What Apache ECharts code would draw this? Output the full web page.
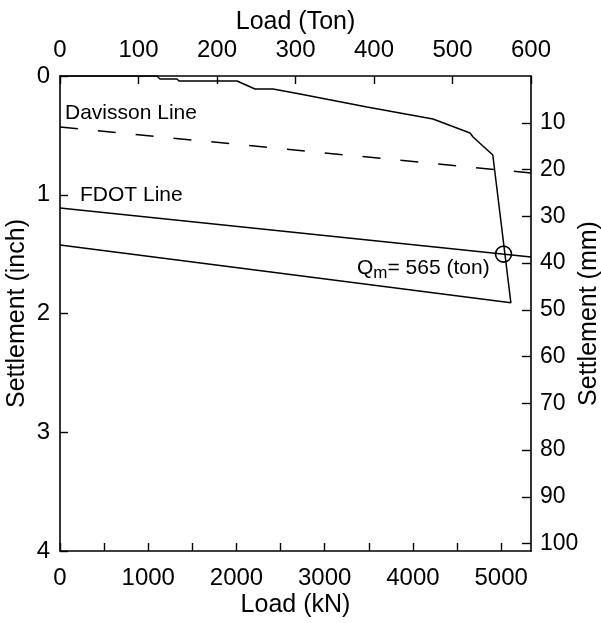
<!DOCTYPE html>
<html>
<head>
<meta charset="utf-8">
<script src="https://cdn.jsdelivr.net/npm/echarts@6/dist/echarts.min.js"></script>
<style>
  html, body { margin: 0; padding: 0; background: #fff; }
  #chart { width: 601px; height: 623px; }
</style>
</head>
<body>
<div id="chart"></div>
<script>
// Static load test: load (kN) versus pile-head settlement (inch), loading then rebound
var loadKN = [0, 1099, 1133, 1326, 1349, 2006, 2210, 2414, 2720, 3479, 4227, 4647, 4681, 4905, 5110, 0];
var settlementIn = [0, 0, 0.025, 0.025, 0.042, 0.042, 0.109, 0.109, 0.152, 0.261, 0.362, 0.48, 0.514, 0.665, 1.91, 1.423];

// Failure criterion lines (load kN, settlement inch) at both ends of the load range
var KN_PER_TON = 8.896443;
var xMaxKN = 600 * KN_PER_TON;
var davissonLoad = [0, xMaxKN];
var davissonSettle = [0.43, 0.817];
var fdotLoad = [0, xMaxKN];
var fdotSettle = [1.112, 1.524];

// Failure load from FDOT criterion
var qmTon = 565;
var qmKN = qmTon * KN_PER_TON;
var qmSettle = 1.112 + (1.524 - 1.112) * qmKN / xMaxKN;

// Axis ranges / tick steps
var loadTickKN = 500;
var loadLabelKN = 1000;
var tonTicks = 100;
var inchMax = 4;
var mmMax = inchMax * 25.4;
var mmTick = 10;

function pairs(xs, ys) {
  return xs.map(function (x, i) { return [x, ys[i]]; });
}

var FONT = 'Liberation Sans';
var TXT = '#000';
var TICK_FS = 24;
var NAME_FS = 25;
var NOTE_FS = 21;
var AX = { onZero: false, lineStyle: { color: '#000', width: 1.6 } };
var TICK = { inside: true, length: 8, lineStyle: { color: '#000', width: 1.4 } };
var nameStyle = { fontSize: NAME_FS, color: TXT, fontFamily: FONT };

var chart = echarts.init(document.getElementById('chart'), null, { renderer: 'canvas' });

chart.setOption({
  animation: false,
  backgroundColor: '#fff',
  textStyle: { fontFamily: FONT, color: TXT },
  grid: { left: 60, right: 70, top: 76, bottom: 72, containLabel: false, outerBoundsMode: 'none' },
  xAxis: [
    {
      type: 'value', position: 'bottom', min: 0, max: xMaxKN, interval: loadTickKN,
      name: 'Load (kN)', nameLocation: 'middle', nameGap: 42, nameTextStyle: nameStyle,
      nameMoveOverlap: false,
      axisLine: AX, axisTick: TICK,
      axisLabel: {
        fontSize: TICK_FS, color: TXT, fontFamily: FONT, margin: 15, showMaxLabel: false,
        formatter: function (v) { return v % loadLabelKN === 0 ? String(v) : ''; }
      },
      splitLine: { show: false }
    },
    {
      type: 'value', position: 'top', min: 0, max: 600, interval: tonTicks,
      name: 'Load (Ton)', nameLocation: 'middle', nameGap: 41, nameTextStyle: nameStyle,
      nameMoveOverlap: false,
      axisLine: AX, axisTick: TICK,
      axisLabel: { fontSize: TICK_FS, color: TXT, fontFamily: FONT, margin: 14 },
      splitLine: { show: false }
    }
  ],
  yAxis: [
    {
      type: 'value', position: 'left', inverse: true, min: 0, max: inchMax, interval: 1,
      name: 'Settlement (inch)', nameLocation: 'middle', nameGap: 30, nameTextStyle: nameStyle,
      nameMoveOverlap: false,
      axisLine: AX, axisTick: TICK,
      axisLabel: { fontSize: TICK_FS, color: TXT, fontFamily: FONT, margin: 10 },
      splitLine: { show: false }
    },
    {
      type: 'value', position: 'right', inverse: true, min: 0, max: mmMax, interval: mmTick,
      name: 'Settlement (mm)', nameLocation: 'middle', nameGap: 46, nameTextStyle: nameStyle,
      nameMoveOverlap: false,
      axisLine: AX,
      axisTick: { inside: true, length: 9, lineStyle: { color: '#000', width: 1.4 } },
      axisLabel: { fontSize: 23, color: TXT, fontFamily: FONT, margin: 9, showMinLabel: false, showMaxLabel: false },
      splitLine: { show: false }
    }
  ],
  series: [
    {
      name: 'Load test', type: 'line', xAxisIndex: 0, yAxisIndex: 0,
      data: pairs(loadKN, settlementIn), showSymbol: false, symbol: 'none',
      lineStyle: { color: '#000', width: 1.5 }
    },
    {
      name: 'Davisson Line', type: 'line', xAxisIndex: 0, yAxisIndex: 0,
      data: pairs(davissonLoad, davissonSettle), symbol: 'none',
      lineStyle: { color: '#000', width: 1.5, type: [18, 20] }
    },
    {
      name: 'FDOT Line', type: 'line', xAxisIndex: 0, yAxisIndex: 0,
      data: pairs(fdotLoad, fdotSettle), symbol: 'none',
      lineStyle: { color: '#000', width: 1.5 }
    },
    {
      name: 'Qm', type: 'scatter', xAxisIndex: 0, yAxisIndex: 0,
      data: [[qmKN, qmSettle]], symbol: 'circle', symbolSize: 16,
      itemStyle: { color: 'rgba(0,0,0,0)', borderColor: '#000', borderWidth: 1.6, opacity: 1 }
    },
    {
      name: 'labels', type: 'scatter', xAxisIndex: 0, yAxisIndex: 0, symbolSize: 0, silent: true,
      itemStyle: { opacity: 1 },
      data: [
        { value: [57, 0.31], label: { formatter: 'Davisson Line' } },
        { value: [227, 1.0], label: { formatter: 'FDOT Line' } },
        { value: [3366, 1.617], label: { formatter: '{q|Q}{s|m}{q|= ' + qmTon + ' (ton)}' } }
      ],
      label: {
        show: true, position: 'right', distance: 0, color: TXT, fontFamily: FONT, fontSize: NOTE_FS,
        rich: {
          q: { fontSize: NOTE_FS, color: TXT, fontFamily: FONT },
          s: { fontSize: 17, color: TXT, fontFamily: FONT, padding: [10, 0, 0, 0] }
        }
      }
    }
  ]
});
</script>
</body>
</html>
